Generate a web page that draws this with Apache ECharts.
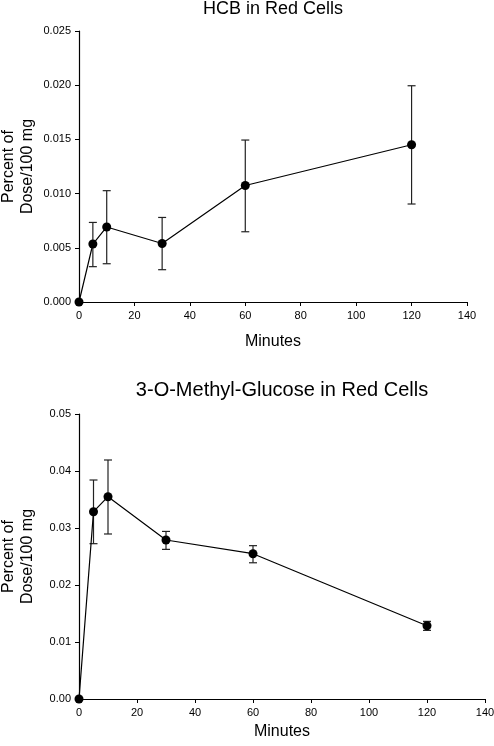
<!DOCTYPE html>
<html>
<head>
<meta charset="utf-8">
<script src="https://cdn.jsdelivr.net/npm/echarts@6/dist/echarts.min.js"></script>
<style>html,body{margin:0;padding:0;background:#fff}#c{width:494px;height:746px}</style>
</head>
<body>
<div id="c"></div>
<script>
var times = [0, 5, 10, 30, 60, 120];
var xTicks = [0, 20, 40, 60, 80, 100, 120, 140];

var hcbMean  = [0.0000, 0.00535, 0.00692, 0.00540, 0.01075, 0.01451];
var hcbUpper = [0.0000, 0.00734, 0.01027, 0.00780, 0.01494, 0.01995];
var hcbLower = [0.0000, 0.00326, 0.00353, 0.00298, 0.00648, 0.00904];

var omgMean  = [0.0000, 0.03286, 0.03549, 0.02790, 0.02549, 0.01286];
var omgUpper = [0.0000, 0.03842, 0.04193, 0.02940, 0.02690, 0.01362];
var omgLower = [0.0000, 0.02725, 0.02895, 0.02625, 0.02390, 0.01204];

var titles = ['HCB in Red Cells', '3-O-Methyl-Glucose in Red Cells'];
var xName = 'Minutes';
var yName = 'Percent of\nDose/100 mg';

function pairs(xs, ys) { return xs.map(function (x, i) { return [x, ys[i]]; }); }
function errData(xs, lo, hi) { return xs.map(function (x, i) { return [x, lo[i], hi[i]]; }); }

function errRender(params, api) {
  var x = api.value(0), lo = api.value(1), hi = api.value(2);
  if (lo === hi) return null;
  var p1 = api.coord([x, lo]), p2 = api.coord([x, hi]);
  var w = 4;
  var st = { stroke: '#222', lineWidth: 1.2 };
  return {
    type: 'group',
    children: [
      { type: 'line', shape: { x1: p1[0], y1: p1[1], x2: p2[0], y2: p2[1] }, style: st },
      { type: 'line', shape: { x1: p1[0] - w, y1: p1[1], x2: p1[0] + w, y2: p1[1] }, style: st },
      { type: 'line', shape: { x1: p2[0] - w, y1: p2[1], x2: p2[0] + w, y2: p2[1] }, style: st }
    ]
  };
}

var font = 'Liberation Sans, Arial, sans-serif';

function xAxis(idx, gap) {
  return {
    gridIndex: idx, type: 'value', min: 0, max: 140, interval: 20,
    axisLine: { lineStyle: { color: '#000', width: 1.2 } },
    axisTick: { length: 4, lineStyle: { color: '#000' } },
    axisLabel: { color: '#000', fontSize: 11, fontFamily: font, margin: 8 },
    splitLine: { show: false },
    name: xName, nameLocation: 'middle', nameGap: gap, nameMoveOverlap: false,
    nameTextStyle: { color: '#000', fontSize: 16, fontFamily: font }
  };
}
function yAxis(idx, max, interval, decimals) {
  return {
    gridIndex: idx, type: 'value', min: 0, max: max, interval: interval,
    axisLine: { show: true, lineStyle: { color: '#000', width: 1.2 } },
    axisTick: { show: true, length: 4, lineStyle: { color: '#000' } },
    axisLabel: { color: '#000', fontSize: 11, fontFamily: font, margin: 8,
      formatter: function (v) { return v.toFixed(decimals); } },
    splitLine: { show: false },
    name: yName, nameLocation: 'middle', nameGap: 42, nameRotate: 90, nameMoveOverlap: false,
    nameTextStyle: { color: '#000', fontSize: 16, fontFamily: font, lineHeight: 19, align: 'center' }
  };
}

var chart = echarts.init(document.getElementById('c'), null, { renderer: 'canvas' });
chart.setOption({
  animation: false,
  backgroundColor: '#fff',
  title: [
    { text: titles[0], left: 273, top: 0, padding: 0, textAlign: 'center',
      textStyle: { color: '#000', fontSize: 18, fontWeight: 'normal', fontFamily: font } },
    { text: titles[1], left: 282, top: 380, padding: 0, textAlign: 'center',
      textStyle: { color: '#000', fontSize: 20, fontWeight: 'normal', fontFamily: font } }
  ],
  grid: [
    { left: 79, right: 27, top: 31, height: 271, containLabel: false, outerBoundsMode: 'none' },
    { left: 79, right: 9, top: 414, height: 285, containLabel: false, outerBoundsMode: 'none' }
  ],
  xAxis: [xAxis(0, 32), xAxis(1, 25)],
  yAxis: [yAxis(0, 0.025, 0.005, 3), yAxis(1, 0.05, 0.01, 2)],
  series: [
    { type: 'custom', xAxisIndex: 0, yAxisIndex: 0, renderItem: errRender,
      data: errData(times, hcbLower, hcbUpper), z: 2 },
    { type: 'line', xAxisIndex: 0, yAxisIndex: 0, data: pairs(times, hcbMean),
      symbol: 'circle', symbolSize: 9, showAllSymbol: true,
      lineStyle: { color: '#000', width: 1.2 }, itemStyle: { color: '#000' }, z: 3 },
    { type: 'custom', xAxisIndex: 1, yAxisIndex: 1, renderItem: errRender,
      data: errData(times, omgLower, omgUpper), z: 2 },
    { type: 'line', xAxisIndex: 1, yAxisIndex: 1, data: pairs(times, omgMean),
      symbol: 'circle', symbolSize: 9, showAllSymbol: true,
      lineStyle: { color: '#000', width: 1.2 }, itemStyle: { color: '#000' }, z: 3 }
  ]
});
</script>
</body>
</html>
